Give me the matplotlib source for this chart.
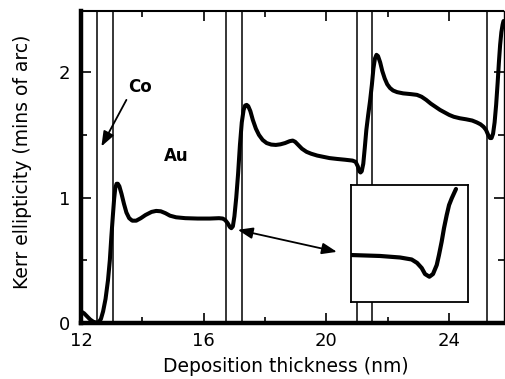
import matplotlib
matplotlib.use("Agg")
import matplotlib.pyplot as plt
from matplotlib.ticker import MultipleLocator

# Main Kerr ellipticity trace (nm, mins of arc)
thickness = [12.0, 12.1, 12.2, 12.3, 12.4, 12.5, 12.58, 12.65, 12.72, 12.8, 12.88, 12.94, 12.99,
             13.04, 13.08, 13.12, 13.16, 13.2, 13.25, 13.32, 13.4, 13.48, 13.57, 13.67, 13.8,
             13.95, 14.1, 14.3, 14.45, 14.6, 14.75, 14.9, 15.1, 15.4, 15.8, 16.2, 16.5, 16.62,
             16.7, 16.78, 16.85, 16.9, 16.95, 17.0, 17.06, 17.12, 17.18, 17.24, 17.3, 17.35,
             17.4, 17.45, 17.52, 17.6, 17.7, 17.8, 17.92, 18.05, 18.2, 18.35, 18.5, 18.65,
             18.8, 18.9, 18.98, 19.08, 19.2, 19.35, 19.5, 19.7, 19.9, 20.1, 20.35, 20.6,
             20.85, 20.95, 21.02, 21.07, 21.11, 21.15, 21.2, 21.25, 21.3, 21.36, 21.42, 21.48,
             21.53, 21.58, 21.63, 21.68, 21.75, 21.82, 21.9, 21.98, 22.07, 22.17, 22.3, 22.5,
             22.75, 22.95, 23.1, 23.25, 23.4, 23.55, 23.7, 23.85, 24.0, 24.15, 24.35, 24.55,
             24.75, 24.9, 25.02, 25.12, 25.2, 25.27, 25.33, 25.38, 25.43, 25.48, 25.53, 25.58,
             25.62, 25.66, 25.7, 25.74, 25.77]
ellipticity = [0.09, 0.075, 0.05, 0.025, 0.008, 0.0, 0.005, 0.03, 0.09, 0.19, 0.34, 0.5, 0.69,
               0.86, 0.99, 1.08, 1.11, 1.11, 1.09, 1.03, 0.95, 0.88, 0.835, 0.815, 0.815,
               0.835, 0.86, 0.885, 0.893, 0.89, 0.875, 0.855, 0.842, 0.835, 0.832, 0.832, 0.835, 0.832,
               0.82, 0.795, 0.765, 0.755, 0.77, 0.85, 1.0, 1.19, 1.42, 1.6, 1.7, 1.735,
               1.74, 1.73, 1.69, 1.62, 1.55, 1.5, 1.46, 1.435, 1.423, 1.42, 1.425, 1.435,
               1.45, 1.455, 1.445, 1.42, 1.39, 1.365, 1.35, 1.335, 1.325, 1.315, 1.308, 1.302,
               1.295, 1.285, 1.25, 1.21, 1.2, 1.21, 1.27, 1.4, 1.54, 1.66, 1.77, 1.9,
               2.03, 2.11, 2.14, 2.13, 2.08, 2.01, 1.95, 1.905, 1.875, 1.855, 1.842, 1.832,
               1.826, 1.82, 1.805, 1.78, 1.75, 1.725, 1.7, 1.68, 1.66, 1.645, 1.633, 1.625,
               1.615, 1.6, 1.585, 1.565, 1.54, 1.5, 1.475, 1.475, 1.51, 1.6, 1.74, 1.92,
               2.08, 2.22, 2.32, 2.38, 2.41]

# Co / Au layer boundaries (nm)
boundaries = [12.53, 13.05, 16.72, 17.24, 20.98, 21.49, 25.24]

# Inset: zoom on the Co/Au interface dip (arbitrary units)
inset_x = [0.0, 0.247, 0.418, 0.517, 0.563, 0.603, 0.631, 0.668, 0.699, 0.731, 0.75,
           0.773, 0.793, 0.816, 0.836, 0.859, 0.895]
inset_y = [0.403, 0.395, 0.382, 0.365, 0.336, 0.292, 0.241, 0.218, 0.241, 0.318, 0.403,
           0.517, 0.633, 0.744, 0.829, 0.887, 0.966]

xticks = [12, 16, 20, 24]
yticks = [0, 1, 2]

plt.rcParams['font.family'] = ['DejaVu Sans']

fig = plt.figure(figsize=(5.05, 3.79), dpi=100)
ax = fig.add_axes([81 / 505, 1 - 322.7 / 379, (503.5 - 81) / 505, (322.7 - 11) / 379])

for b in boundaries:
    ax.axvline(b, color='black', lw=1.1, zorder=1)
ax.plot(thickness, ellipticity, color='black', lw=2.9, solid_capstyle='round',
        solid_joinstyle='round', zorder=3)

ax.set_xlim(12, 25.77)
ax.set_ylim(0, 2.49)
ax.set_xticks(xticks)
ax.set_yticks(yticks)
ax.xaxis.set_minor_locator(MultipleLocator(2))
ax.yaxis.set_minor_locator(MultipleLocator(0.5))
ax.tick_params(which='both', direction='in', top=True, right=True, width=1.2,
               labelsize=13, colors='black')
ax.tick_params(which='major', length=7)
ax.tick_params(axis='x', which='major', pad=7)
ax.tick_params(axis='y', which='major', pad=8)
ax.tick_params(which='minor', length=4)
for side in ['left', 'bottom']:
    ax.spines[side].set_linewidth(3.2)
ax.spines['top'].set_linewidth(1.5)
ax.spines['right'].set_linewidth(1.0)

ax.set_xlabel('Deposition thickness (nm)', fontsize=13.5, labelpad=2)
ax.set_ylabel('Kerr ellipticity (mins of arc)', fontsize=13.5)
ax.xaxis.set_label_coords((285.5 - 81) / (503.5 - 81), -(366 - 322.7) / (322.7 - 11))
ax.yaxis.set_label_coords(-(81 - 23) / (503.5 - 81), (322.7 - 161.5) / (322.7 - 11))
ax.xaxis.label.set_va('center')
ax.yaxis.label.set_va('center')

ax.text(13.92, 1.88, 'Co', fontsize=12, fontweight='bold', ha='center', va='center')
ax.text(15.11, 1.33, 'Au', fontsize=12, fontweight='bold', ha='center', va='center')
ax.annotate('', xy=(12.665, 1.408), xytext=(13.48, 1.78),
            arrowprops=dict(arrowstyle='-|>,head_length=0.45,head_width=0.17', color='black',
                            lw=1.3, mutation_scale=20, shrinkA=0, shrinkB=0))
ax.annotate('', xy=(17.11, 0.742), xytext=(20.34, 0.566),
            arrowprops=dict(arrowstyle='<|-|>,head_length=0.45,head_width=0.17', color='black',
                            lw=1.3, mutation_scale=20, shrinkA=0, shrinkB=0))

ins = fig.add_axes([351 / 505, 1 - 302.3 / 379, 117.3 / 505, 117.3 / 379])
ins.plot(inset_x, inset_y, color='black', lw=3.0, solid_capstyle='round',
         solid_joinstyle='round')
ins.set_xlim(0, 1)
ins.set_ylim(0, 1)
ins.set_xticks([])
ins.set_yticks([])
for s in ins.spines.values():
    s.set_linewidth(1.3)

fig.savefig('out.png', dpi=100)
